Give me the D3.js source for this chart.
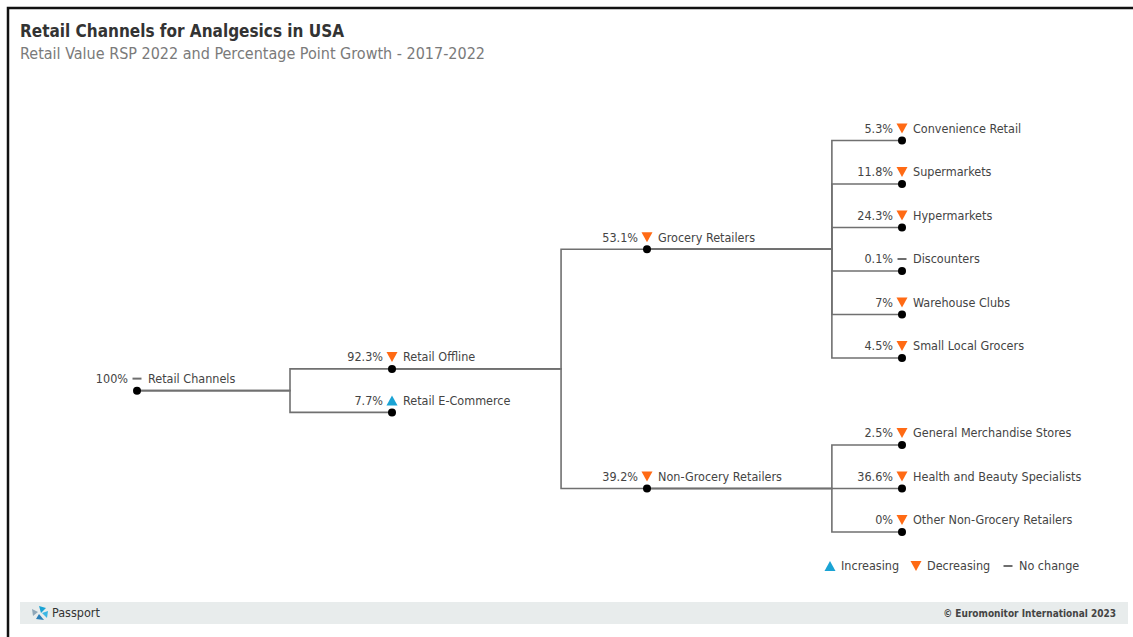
<!DOCTYPE html>
<html>
<head>
<meta charset="utf-8">
<script src="https://cdn.jsdelivr.net/npm/d3@7"></script>
<style>
  html, body { margin: 0; padding: 0; background: #fff; }
  svg { display: block; }
  text { font-family: "DejaVu Sans Condensed", "DejaVu Sans", sans-serif; font-stretch: condensed; }
</style>
</head>
<body>
<svg id="chart" width="1133" height="637"></svg>
<script>
// Channel hierarchy: name, parent, share of retail value 2022 (%), direction of change 2017-2022
const channelNames = [
  "Retail Channels", "Retail Offline", "Retail E-Commerce",
  "Grocery Retailers", "Non-Grocery Retailers",
  "Convenience Retail", "Supermarkets", "Hypermarkets", "Discounters",
  "Warehouse Clubs", "Small Local Grocers",
  "General Merchandise Stores", "Health and Beauty Specialists", "Other Non-Grocery Retailers"
];
const channelParents = [
  "", "Retail Channels", "Retail Channels",
  "Retail Offline", "Retail Offline",
  "Grocery Retailers", "Grocery Retailers", "Grocery Retailers", "Grocery Retailers",
  "Grocery Retailers", "Grocery Retailers",
  "Non-Grocery Retailers", "Non-Grocery Retailers", "Non-Grocery Retailers"
];
const shareValues = [100, 92.3, 7.7, 53.1, 39.2, 5.3, 11.8, 24.3, 0.1, 7, 4.5, 2.5, 36.6, 0];
const trendValues = ["flat", "down", "up", "down", "down", "down", "down", "down", "flat", "down", "down", "down", "down", "down"];

const legendItems = [
  { key: "up", label: "Increasing" },
  { key: "down", label: "Decreasing" },
  { key: "flat", label: "No change" }
];

const titleText = "Retail Channels for Analgesics in USA";
const subtitleText = "Retail Value RSP 2022 and Percentage Point Growth - 2017-2022";

const COLORS = { up: "#1AA3D4", down: "#FF6A14", flat: "#6e6e6e" };
const svg = d3.select("#chart");

// frame
svg.append("rect").attr("x", 8).attr("y", 8).attr("width", 1140).attr("height", 650)
  .attr("fill", "none").attr("stroke", "#111").attr("stroke-width", 2.5);

svg.append("text").attr("x", 20).attr("y", 37).text(titleText)
  .attr("font-size", 17).attr("font-weight", "bold").attr("fill", "#333");
svg.append("text").attr("x", 20).attr("y", 59).text(subtitleText)
  .attr("font-size", 16).attr("fill", "#7a7a7a");

// hierarchy and tidy-tree layout (rows along y, depth along x)
const table = channelNames.map((n, i) => ({
  name: n, parent: channelParents[i], share: shareValues[i], trend: trendValues[i]
}));
const root = d3.stratify().id(d => d.name).parentId(d => d.parent || null)(table);
d3.tree().nodeSize([1, 1])(root);

const nodes = root.descendants();
const rowExtent = d3.extent(nodes, d => d.x);
const yScale = d3.scaleLinear().domain(rowExtent).range([140.5, 532]);
const xScale = d3.scaleLinear().domain([0, 3]).range([137, 902]);
// where the elbow of each link turns, as a fraction of the gap after the parent's depth
const elbowFrac = [0.6, 0.663, 0.725];

const g = svg.append("g");

g.selectAll("path.link").data(root.links()).join("path")
  .attr("class", "link")
  .attr("fill", "none").attr("stroke", "#707070").attr("stroke-width", 1.6)
  .attr("d", l => {
    const x0 = xScale(l.source.depth), y0 = yScale(l.source.x);
    const x1 = xScale(l.target.depth), y1 = yScale(l.target.x);
    const xm = x0 + (x1 - x0) * elbowFrac[l.source.depth];
    return `M${x0},${y0}H${xm}V${y1}H${x1}`;
  });

g.selectAll("circle.node").data(nodes).join("circle")
  .attr("class", "node")
  .attr("cx", d => xScale(d.depth)).attr("cy", d => yScale(d.x)).attr("r", 4)
  .attr("fill", "#000");

function drawMarker(sel, key, cx, cy) {
  if (key === "up") {
    sel.append("path").attr("d", `M${cx - 5.5},${cy + 5}L${cx + 5.5},${cy + 5}L${cx},${cy - 5}Z`)
      .attr("fill", COLORS.up);
  } else if (key === "down") {
    sel.append("path").attr("d", `M${cx - 5.5},${cy - 5}L${cx + 5.5},${cy - 5}L${cx},${cy + 5}Z`)
      .attr("fill", COLORS.down);
  } else {
    sel.append("line").attr("x1", cx - 4.5).attr("x2", cx + 4.5).attr("y1", cy).attr("y2", cy)
      .attr("stroke", COLORS.flat).attr("stroke-width", 2);
  }
}

const labels = g.selectAll("g.label").data(nodes).join("g").attr("class", "label");
labels.each(function (d) {
  const sel = d3.select(this);
  const cx = xScale(d.depth), cy = yScale(d.x) - 12;
  sel.append("text").attr("x", cx - 9).attr("y", cy).attr("dy", "0.35em")
    .attr("text-anchor", "end").attr("font-size", 12.5).attr("fill", "#444")
    .text(d.data.share + "%");
  drawMarker(sel, d.data.trend, cx, cy);
  sel.append("text").attr("x", cx + 11).attr("y", cy).attr("dy", "0.35em")
    .attr("font-size", 12.5).attr("fill", "#444")
    .text(d.data.name);
});

// legend
const legendX = [830, 916, 1008];
const lg = svg.append("g");
legendItems.forEach((item, i) => {
  const sel = lg.append("g");
  drawMarker(sel, item.key, legendX[i], 566);
  sel.append("text").attr("x", legendX[i] + 11).attr("y", 566).attr("dy", "0.35em")
    .attr("font-size", 12.5).attr("fill", "#444").text(item.label);
});

// footer
svg.append("rect").attr("x", 20).attr("y", 602).attr("width", 1108).attr("height", 22).attr("fill", "#E8ECEC");
const logo = svg.append("g").attr("transform", "translate(40,613)");
logo.append("path").attr("d", "M-1,-7L6,-5L1,0Z").attr("fill", "#1AA3D4");
logo.append("path").attr("d", "M2,0L8,-2L7,5Z").attr("fill", "#3CB6E3");
logo.append("path").attr("d", "M-1,1L4,7L-4,6Z").attr("fill", "#2A7FB8");
logo.append("path").attr("d", "M-2,-1L-8,-4L-7,3Z").attr("fill", "#8FA7B8");
svg.append("text").attr("x", 52).attr("y", 613).attr("dy", "0.35em").attr("font-size", 12.5)
  .attr("fill", "#333").text("Passport");
svg.append("text").attr("x", 1116).attr("y", 613).attr("dy", "0.35em").attr("text-anchor", "end")
  .attr("font-size", 10).attr("font-weight", "bold").attr("fill", "#444")
  .text("© Euromonitor International 2023");
</script>
</body>
</html>
